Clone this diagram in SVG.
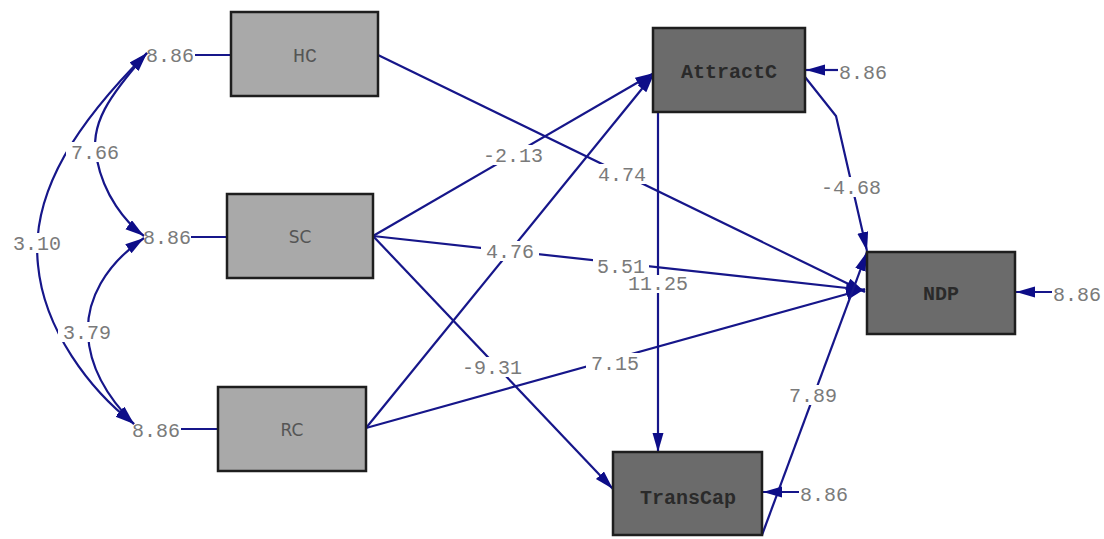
<svg xmlns="http://www.w3.org/2000/svg" width="1104" height="539" viewBox="0 0 1104 539">
  <style>
    .box-light { fill: #a9a9a9; stroke: #1e1e1e; stroke-width: 2.5px; }
    .box-dark { fill: #6b6b6b; stroke: #1e1e1e; stroke-width: 2.5px; }
    .name { font-family: "Liberation Mono", monospace; font-size: 20px; text-anchor: middle; }
    .name-sans { font-family: "DejaVu Sans", sans-serif; font-size: 17px; text-anchor: middle; }
    .light-text { fill: #555555; }
    .dark-text { fill: #2a2a2a; font-weight: bold; }
    .edge { fill: none; stroke: #16168a; stroke-width: 2.2px; }
    .gap { fill: #ffffff; }
    .val { font-family: "Liberation Mono", monospace; font-size: 20px; fill: #7a7a7a; text-anchor: middle; }
  </style>
  <defs>
    <marker id="arrow" markerUnits="userSpaceOnUse" markerWidth="20" markerHeight="13" refX="19" refY="5.5" orient="auto-start-reverse">
      <path d="M0,0 L19,5.5 L0,11 z" fill="#0d0d88"/>
    </marker>
  </defs>
  <rect width="1104" height="539" fill="#ffffff"/>

  <!-- paths, covariances and residual stubs -->
  <g id="connectors">
    <!-- residual stubs on exogenous variables -->
    <line class="edge" x1="195" y1="55" x2="231" y2="55"/>
    <line class="edge" x1="191" y1="237" x2="227" y2="237"/>
    <line class="edge" x1="181" y1="429" x2="218" y2="429"/>

    <!-- covariances -->
    <path class="edge" d="M147,53 C110,95 88,125 97,160 C104,195 125,222 144,236" marker-start="url(#arrow)" marker-end="url(#arrow)"/>
    <path class="edge" d="M147,53 C80,120 30,190 38,265 C44,330 90,390 134,424" marker-start="url(#arrow)" marker-end="url(#arrow)"/>
    <path class="edge" d="M144,238 C105,265 86,300 88,335 C90,370 110,400 134,424" marker-start="url(#arrow)" marker-end="url(#arrow)"/>

    <!-- structural paths -->
    <line class="edge" x1="378" y1="55" x2="865" y2="292" marker-end="url(#arrow)"/>
    <line class="edge" x1="373" y1="236" x2="865" y2="290" marker-end="url(#arrow)"/>
    <line class="edge" x1="366" y1="428" x2="865" y2="289" marker-end="url(#arrow)"/>
    <line class="edge" x1="373" y1="236" x2="654" y2="73" marker-end="url(#arrow)"/>
    <line class="edge" x1="366" y1="428" x2="654" y2="74" marker-end="url(#arrow)"/>
    <line class="edge" x1="373" y1="236" x2="613" y2="489" marker-end="url(#arrow)"/>
    <line class="edge" x1="658" y1="112" x2="658" y2="452" marker-end="url(#arrow)"/>
    <path class="edge" d="M805,77 L836,116 L867,251" marker-end="url(#arrow)"/>
    <line class="edge" x1="762" y1="535" x2="867" y2="252" marker-end="url(#arrow)"/>

    <!-- residual arrows on endogenous variables -->
    <line class="edge" x1="838" y1="70" x2="806" y2="70" marker-end="url(#arrow)"/>
    <line class="edge" x1="1052" y1="292" x2="1016" y2="292" marker-end="url(#arrow)"/>
    <line class="edge" x1="799" y1="492" x2="763" y2="492" marker-end="url(#arrow)"/>

    <!-- clear space behind the coefficients that sit on a line -->
    <rect class="gap" x="66" y="142" width="58" height="20"/>
    <rect class="gap" x="8" y="233" width="58" height="20"/>
    <rect class="gap" x="58" y="322" width="58" height="20"/>
    <rect class="gap" x="477" y="145" width="72" height="20"/>
    <rect class="gap" x="593" y="164" width="58" height="20"/>
    <rect class="gap" x="481" y="241" width="58" height="20"/>
    <rect class="gap" x="593" y="257" width="56" height="18"/>
    <rect class="gap" x="622" y="275" width="72" height="18"/>
    <rect class="gap" x="456" y="357" width="72" height="20"/>
    <rect class="gap" x="586" y="353" width="58" height="20"/>
    <rect class="gap" x="815" y="177" width="72" height="20"/>
    <rect class="gap" x="784" y="385" width="58" height="20"/>

    <!-- coefficient labels -->
    <text class="val" x="170" y="62">8.86</text>
    <text class="val" x="167" y="244">8.86</text>
    <text class="val" x="156" y="437">8.86</text>
    <text class="val" x="95" y="159">7.66</text>
    <text class="val" x="37" y="250">3.10</text>
    <text class="val" x="87" y="339">3.79</text>
    <text class="val" x="513" y="162">-2.13</text>
    <text class="val" x="622" y="181">4.74</text>
    <text class="val" x="510" y="258">4.76</text>
    <text class="val" x="621" y="273">5.51</text>
    <text class="val" x="658" y="290">11.25</text>
    <text class="val" x="492" y="374">-9.31</text>
    <text class="val" x="615" y="370">7.15</text>
    <text class="val" x="851" y="194">-4.68</text>
    <text class="val" x="863" y="79">8.86</text>
    <text class="val" x="1077" y="301">8.86</text>
    <text class="val" x="813" y="402">7.89</text>
    <text class="val" x="824" y="501">8.86</text>
  </g>

  <g id="HC">
    <rect class="box-light" x="231" y="12" width="147" height="84"/>
    <text class="name light-text" x="305" y="62">HC</text>
  </g>
  <g id="SC">
    <rect class="box-light" x="227" y="194" width="146" height="84"/>
    <text class="name-sans light-text" x="300" y="243">SC</text>
  </g>
  <g id="RC">
    <rect class="box-light" x="218" y="387" width="148" height="84"/>
    <text class="name-sans light-text" x="292" y="436">RC</text>
  </g>
  <g id="AttractC">
    <rect class="box-dark" x="653" y="28" width="152" height="84"/>
    <text class="name dark-text" x="729" y="78">AttractC</text>
  </g>
  <g id="NDP">
    <rect class="box-dark" x="867" y="252" width="148" height="82"/>
    <text class="name dark-text" x="941" y="300">NDP</text>
  </g>
  <g id="TransCap">
    <rect class="box-dark" x="613" y="452" width="149" height="83"/>
    <text class="name dark-text" x="688" y="504">TransCap</text>
  </g>
</svg>
